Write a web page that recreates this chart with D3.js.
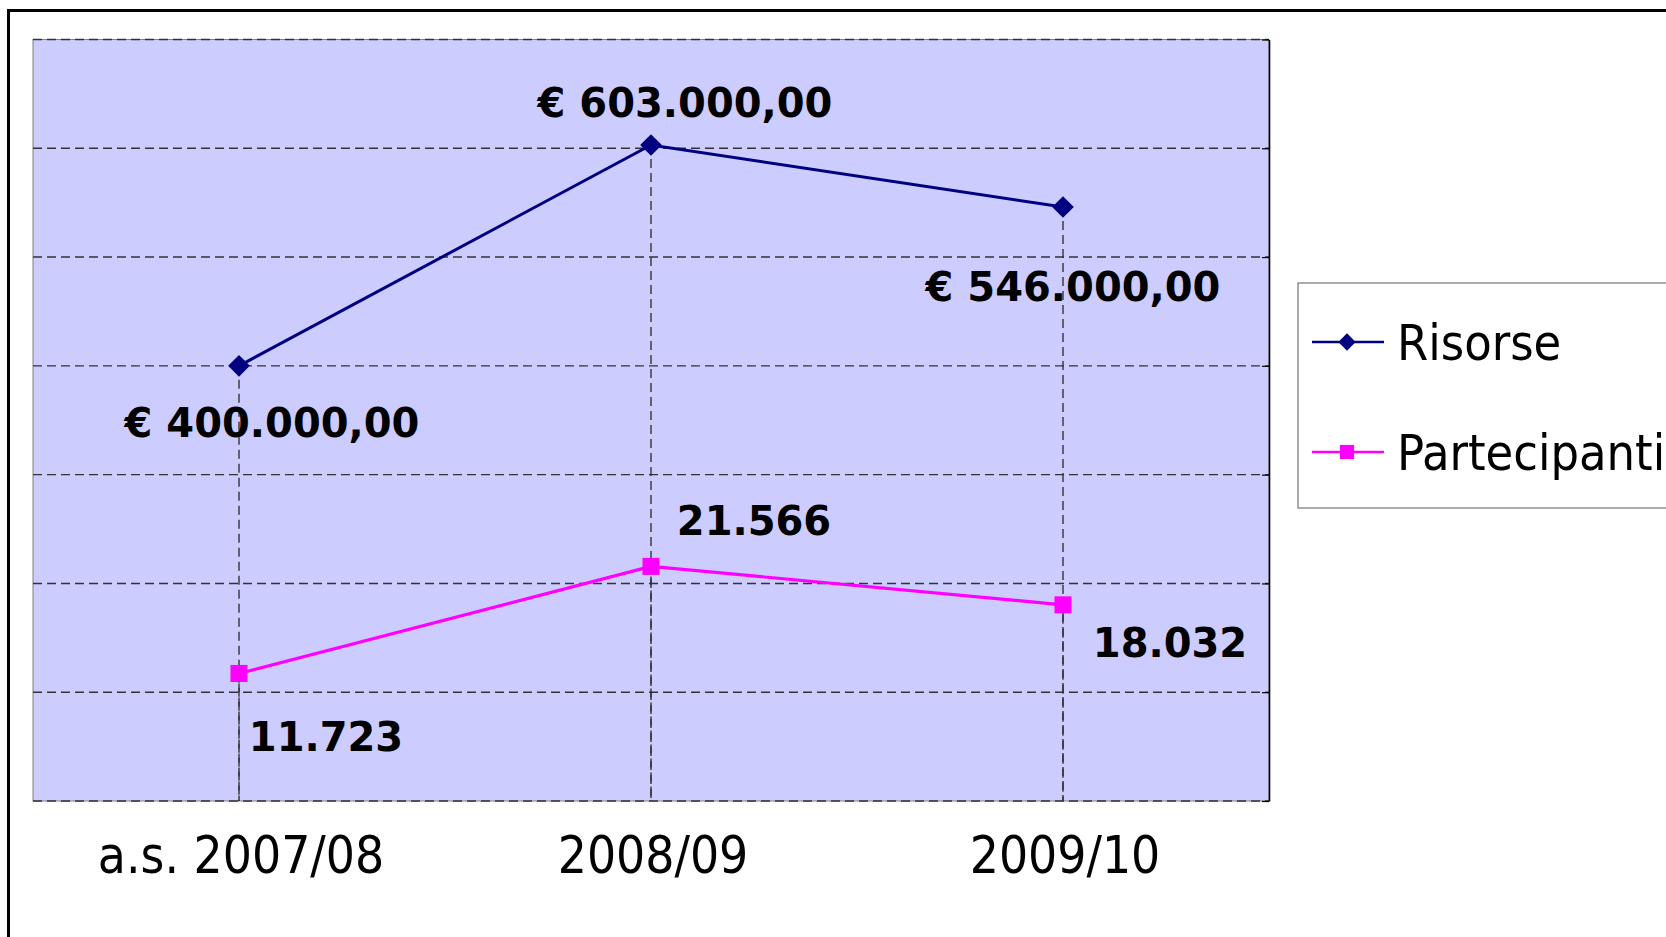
<!DOCTYPE html>
<html>
<head>
<meta charset="utf-8">
<script src="https://cdn.jsdelivr.net/npm/d3@7"></script>
<style>
  html, body { margin: 0; padding: 0; background: #fff; overflow: hidden; }
  svg { display: block; }
  .cat, .leg { font-family: 'DejaVu Sans Condensed', 'DejaVu Sans', sans-serif; font-stretch: condensed; fill: #000; }
  .val { font-family: 'DejaVu Sans', sans-serif; font-weight: bold; fill: #000; }
</style>
</head>
<body>
<svg id="chart" width="1666" height="937"></svg>
<script>
// ---- data ----
const categories = ["a.s. 2007/08", "2008/09", "2009/10"];
const seriesNames = ["Risorse", "Partecipanti"];
const risorse = [400000, 603000, 546000];        // euro
const partecipanti = [11723, 21566, 18032];      // people
const primaryDomain = [0, 700000];
const secondaryDomain = [0, 70000];
const tickCount = 7;

// ---- formatting (Italian conventions) ----
const it = d3.formatLocale({ decimal: ",", thousands: ".", grouping: [3], currency: ["€ ", ""] });
const fmtEuro = it.format("$,.2f");
const fmtInt = it.format(",");

// ---- layout ----
const plot = { left: 33, top: 39.5, right: 1269, bottom: 801 };
const colors = { risorse: "#000080", partecipanti: "#FF00FF", bg: "#CCCCFF", grid: "#333333" };
const gridDash = "9,5";

const svg = d3.select("#chart");

// outer chart frame
svg.append("rect")
  .attr("x", 8.5).attr("y", 10.5).attr("width", 1800).attr("height", 1100)
  .attr("fill", "#fff").attr("stroke", "#000").attr("stroke-width", 3);

const x = d3.scaleBand().domain(categories).range([plot.left, plot.right]);
const cx = c => x(c) + x.bandwidth() / 2;
const yL = d3.scaleLinear().domain(primaryDomain).range([plot.bottom, plot.top]);
const yR = d3.scaleLinear().domain(secondaryDomain).range([plot.bottom, plot.top]);

// plot area
svg.append("rect")
  .attr("x", plot.left).attr("y", plot.top)
  .attr("width", plot.right - plot.left).attr("height", plot.bottom - plot.top)
  .attr("fill", colors.bg).attr("stroke", "#808080").attr("stroke-width", 1);

// horizontal gridlines
svg.append("g").selectAll("line")
  .data(yL.ticks(tickCount))
  .join("line")
  .attr("x1", plot.left).attr("x2", plot.right)
  .attr("y1", d => yL(d)).attr("y2", d => yL(d))
  .attr("stroke", colors.grid).attr("stroke-width", 1.4)
  .attr("stroke-dasharray", gridDash);

// drop lines, one set per axis group
const drops = svg.append("g");
drops.selectAll("line.dl")
  .data(categories.map((c, i) => ({ c, y: yL(risorse[i]) })))
  .join("line").attr("class", "dl")
  .attr("x1", d => cx(d.c)).attr("x2", d => cx(d.c))
  .attr("y1", d => d.y).attr("y2", plot.bottom)
  .attr("stroke", colors.grid).attr("stroke-width", 1.4)
  .attr("stroke-dasharray", gridDash);
drops.selectAll("line.dr")
  .data(categories.map((c, i) => ({ c, y: yR(partecipanti[i]) })))
  .join("line").attr("class", "dr")
  .attr("x1", d => cx(d.c)).attr("x2", d => cx(d.c))
  .attr("y1", d => d.y).attr("y2", plot.bottom)
  .attr("stroke", colors.grid).attr("stroke-width", 1.4)
  .attr("stroke-dasharray", gridDash).attr("stroke-dashoffset", 4);

// secondary value axis on the right edge (ticks only)
const axR = svg.append("g")
  .attr("transform", `translate(${plot.right},0)`)
  .call(d3.axisLeft(yR).ticks(tickCount).tickSize(7).tickSizeOuter(0).tickFormat(""));
axR.select(".domain").attr("stroke", "#000").attr("stroke-width", 1.6);
axR.selectAll(".tick line").attr("stroke", "#000").attr("stroke-width", 1.2);

// series lines
const lineL = d3.line().x((d, i) => cx(categories[i])).y(d => yL(d));
const lineR = d3.line().x((d, i) => cx(categories[i])).y(d => yR(d));
svg.append("path").datum(risorse).attr("d", lineL)
  .attr("fill", "none").attr("stroke", colors.risorse).attr("stroke-width", 3);
svg.append("path").datum(partecipanti).attr("d", lineR)
  .attr("fill", "none").attr("stroke", colors.partecipanti).attr("stroke-width", 3.2);

// markers
const squareSym = size => d3.symbol(d3.symbolSquare, size)();
svg.append("g").selectAll("path")
  .data(risorse)
  .join("path")
  .attr("d", squareSym(235))
  .attr("transform", (d, i) => `translate(${cx(categories[i])},${yL(d)}) rotate(45)`)
  .attr("fill", colors.risorse);
svg.append("g").selectAll("path")
  .data(partecipanti)
  .join("path")
  .attr("d", squareSym(290))
  .attr("transform", (d, i) => `translate(${cx(categories[i])},${yR(d)})`)
  .attr("fill", colors.partecipanti);

// data labels (offsets from each point)
const risorseOffsets = [[33, 71], [34, -28], [10, 94]];
const partecipantiOffsets = [[87, 78], [103, -31], [107, 52]];
svg.append("g").selectAll("text")
  .data(risorse)
  .join("text").attr("class", "val")
  .attr("x", (d, i) => cx(categories[i]) + risorseOffsets[i][0])
  .attr("y", (d, i) => yL(d) + risorseOffsets[i][1])
  .attr("text-anchor", "middle").attr("font-size", 40)
  .text(d => fmtEuro(d));
svg.append("g").selectAll("text")
  .data(partecipanti)
  .join("text").attr("class", "val")
  .attr("x", (d, i) => cx(categories[i]) + partecipantiOffsets[i][0])
  .attr("y", (d, i) => yR(d) + partecipantiOffsets[i][1])
  .attr("text-anchor", "middle").attr("font-size", 40)
  .text(d => fmtInt(d));

// category labels
svg.append("g").selectAll("text")
  .data(categories)
  .join("text").attr("class", "cat")
  .attr("x", d => cx(d) + 2).attr("y", 873)
  .attr("text-anchor", "middle").attr("font-size", 51)
  .text(d => d);

// legend
const legend = svg.append("g");
legend.append("rect")
  .attr("x", 1298).attr("y", 283).attr("width", 500).attr("height", 225)
  .attr("fill", "#fff").attr("stroke", "#808080").attr("stroke-width", 1.3);
const legendRows = [
  { name: seriesNames[0], color: colors.risorse, y: 342, shape: "diamond" },
  { name: seriesNames[1], color: colors.partecipanti, y: 452, shape: "square" }
];
const lr = legend.selectAll("g").data(legendRows).join("g")
  .attr("transform", d => `translate(0,${d.y})`);
lr.append("line").attr("x1", 1312).attr("x2", 1384).attr("y1", 0).attr("y2", 0)
  .attr("stroke", d => d.color).attr("stroke-width", 2.6);
lr.append("path")
  .attr("d", d => d.shape === "diamond" ? squareSym(150) : squareSym(200))
  .attr("transform", d => d.shape === "diamond" ? "translate(1347,0) rotate(45)" : "translate(1347,0)")
  .attr("fill", d => d.color);
lr.append("text").attr("class", "leg")
  .attr("x", 1397).attr("y", 18).attr("font-size", 50)
  .text(d => d.name);
</script>
</body>
</html>
